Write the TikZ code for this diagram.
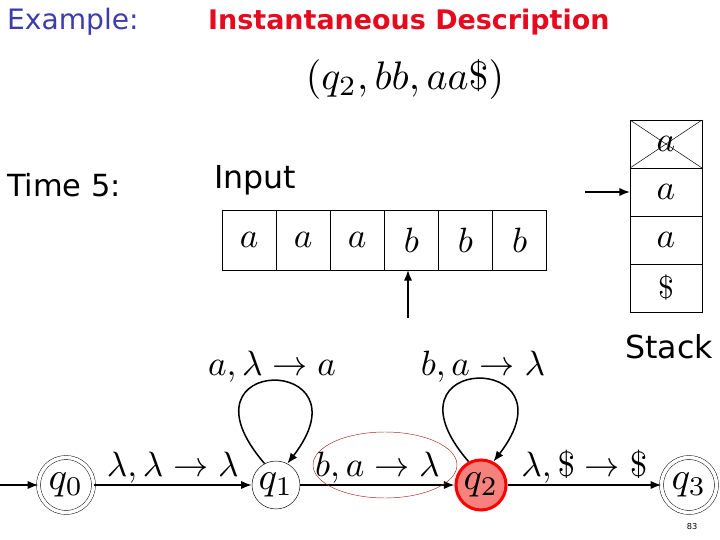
\documentclass[tikz,border=0pt]{standalone}
\usepackage{fontspec}
\setsansfont{DejaVu Sans}
\usetikzlibrary{positioning}
\usetikzlibrary{arrows.meta}
\usetikzlibrary{shapes}

\definecolor{exblue}{RGB}{60,60,175}
\definecolor{idred}{RGB}{230,10,30}
\definecolor{ringred}{RGB}{170,40,40}
\definecolor{curfill}{RGB}{245,130,125}

% math at slide size
\newcommand{\mbig}[2][3]{\scalebox{#1}{$#2$}}

\tikzset{
  state/.style={circle,draw,thin,minimum size=1.44cm,inner sep=0pt},
  accept/.style={state,double,double distance=3pt,minimum size=1.65cm},
  current/.style={state,draw=red,line width=2.6pt,fill=curfill,minimum size=1.5cm},
  tapecell/.style={draw,rectangle,outer sep=0pt,minimum width=1.623cm,minimum height=1.8cm,inner sep=0pt},
  stackcell/.style={draw,rectangle,outer sep=0pt,minimum width=2.16cm,minimum height=1.44cm,inner sep=0pt},
  trans/.style={inner sep=1pt},
  heading/.style={font=\sffamily\fontsize{24}{26}\selectfont,anchor=west},
  edge/.style={-{Latex[length=9pt,width=7pt]},line width=1.3pt},
}

\begin{document}
\begin{tikzpicture}[x=0.03cm,y=-0.03cm]
\useasboundingbox (0,0) rectangle (720,540);
% headings
\node[heading,text=exblue] (ex) at (3,22) {Example:};
\node[heading,text=idred,font=\sffamily\bfseries\fontsize{23}{25}\selectfont] (idtitle) at (204,22) {Instantaneous Description};
\node (idval) at (405,80) {\mbig[3.4]{(q_2,bb,aa\$)}};
\node[heading,font=\sffamily\fontsize{26}{28}\selectfont] (time) at (3,185) {Time 5:};
\node[heading,font=\sffamily\fontsize{27}{29}\selectfont] (inlab) at (210,180) {Input};
\node[heading,font=\sffamily\fontsize{27}{29}\selectfont] (stlab) at (621,347) {Stack};
\node[font=\sffamily\scriptsize] (pg) at (692,527) {83};

% input tape
\foreach \c [count=\i] in {a,a,a,b,b,b} {
\node[tapecell] (t\i) at ({222+54.1*(\i-0.5)},240) {\mbig[3]{\c}};
}
\coordinate (head) at (408,318);
\draw[edge] (head) -- (head |- t4.south);

% stack
\node[stackcell] (s1) at (666,144) {\mbig[3]{a}};
\node[stackcell,below=0pt of s1] (s2) {\mbig[3]{a}};
\node[stackcell,below=0pt of s2] (s3) {\mbig[3]{a}};
\node[stackcell,below=0pt of s3] (s4) {\mbig[2.7]{\$}};
\draw (s1.north west) -- (s1.south east);
\draw (s1.south west) -- (s1.north east);
\coordinate (top) at (585,192);
\draw[edge] (top) -- (top -| s2.west);

% automaton
\node[accept] (q0) at (66,485) {\mbig[3.3]{q_0}};
\node[state] (q1) at (276,485) {\mbig[3.3]{q_1}};
\node[current] (q2) at (481,485) {\mbig[3.3]{q_2}};
\node[accept] (q3) at (689,485) {\mbig[3.3]{q_3}};
\coordinate (init) at (0,485);
\draw[edge] (init) -- (q0);
\draw[edge] (q0) -- node[trans,above] (l01) {\mbig{\lambda,\lambda\to\lambda}} (q1);
\draw[edge] (q1) -- node[trans,above] (l12) {\mbig{b,a\to\lambda}} (q2);
\draw[edge] (q2) -- node[trans,above] (l23) {\mbig{\lambda,\$\to\$}} (q3);
\draw[edge] (q1.118) .. controls +(-95,-110) and +(85,-110) .. (q1.62);
\draw[edge] (q2.118) .. controls +(-95,-110) and +(85,-110) .. (q2.62);
\node[trans] (l11) at (272,367) {\mbig{a,\lambda\to a}};
\node[trans] (l22) at (483,367) {\mbig{b,a\to\lambda}};
\draw[ringred,thin] (385,465) ellipse [x radius=2.16cm,y radius=0.99cm];
\end{tikzpicture}
\end{document}
